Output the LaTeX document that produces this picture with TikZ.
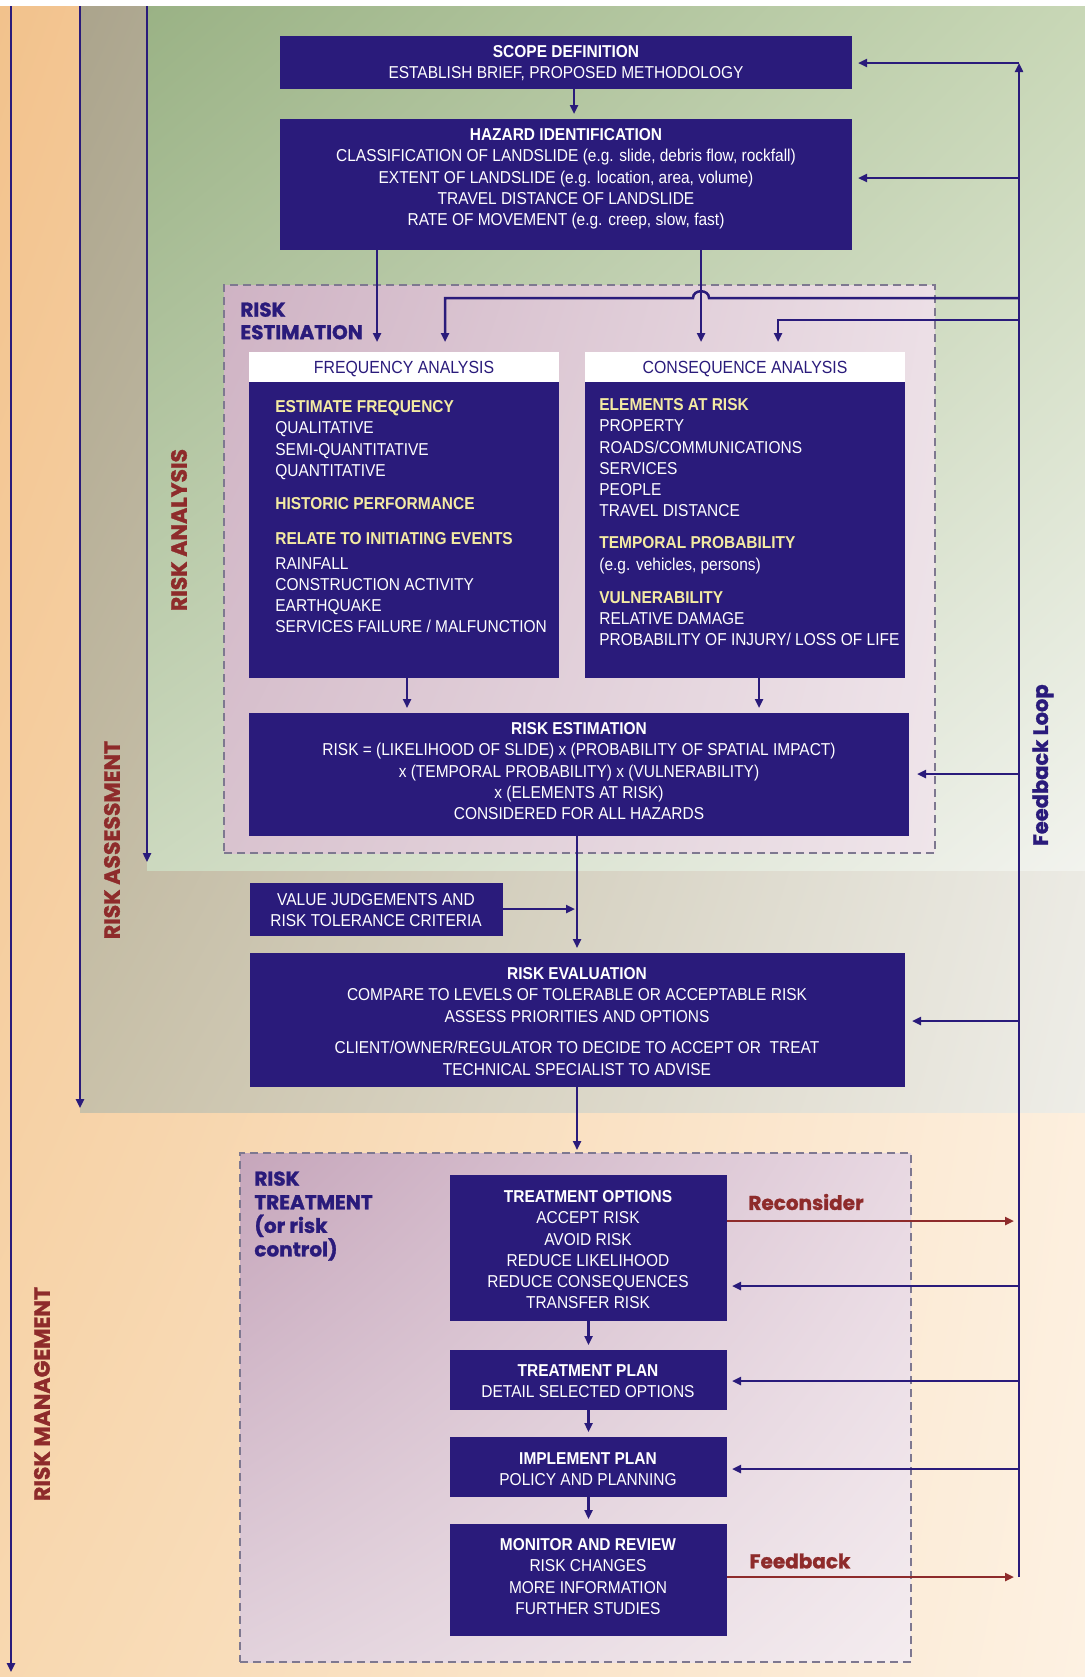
\documentclass[tikz,border=0pt]{standalone}
\usepackage{fontspec}
\setmainfont{Liberation Sans}[FakeStretch=0.9]
\newfontfamily\heavy{Poppins}[BoldFeatures={FakeBold=1.3}]
\usetikzlibrary{arrows.meta,fit,shadings}
\definecolor{navy}{HTML}{2A1B7B}
\definecolor{yel}{HTML}{F4EBA2}
\definecolor{rbrown}{HTML}{8E2B2B}
\definecolor{dashg}{HTML}{7E7890}
\definecolor{orUL}{HTML}{F2C28C}\definecolor{orLL}{HTML}{F8D8B0}
\definecolor{orUR}{HTML}{FCEBD6}\definecolor{orLR}{HTML}{FDF1E2}
\definecolor{grUL}{HTML}{ABA48C}\definecolor{grLL}{HTML}{C9C1A9}
\definecolor{grUR}{HTML}{E3E2D8}\definecolor{grLR}{HTML}{EEEDE7}
\definecolor{gnUL}{HTML}{9AB285}\definecolor{gnLL}{HTML}{CCD9BF}
\definecolor{gnUR}{HTML}{C8D7B6}\definecolor{gnLR}{HTML}{F2F3EE}
\definecolor{reUL}{HTML}{CFB3C4}\definecolor{reLL}{HTML}{D9C3CF}
\definecolor{reUR}{HTML}{ECDFE6}\definecolor{reLR}{HTML}{EFE5EA}
\definecolor{rtUL}{HTML}{C6A6BB}\definecolor{rtLL}{HTML}{E2D2DC}
\definecolor{rtUR}{HTML}{E8D8E2}\definecolor{rtLR}{HTML}{F4ECEF}
\begin{document}
\begin{tikzpicture}[x=0.5pt,y=-0.5pt,
  box/.style={fill=navy,draw=none,inner sep=0pt,outer sep=0pt},
  hdr/.style={fill=white,draw=none,inner sep=0pt,outer sep=0pt},
  txt/.style={text=white,font=\fontsize{8.6}{10.65}\selectfont,inner sep=0pt,align=center,anchor=north},
  hdrtxt/.style={text=navy,font=\fontsize{8.8}{10.65}\selectfont,inner sep=0pt,anchor=north},
  region/.style={draw=dashg,dash pattern=on 4pt off 2.5pt,line width=0.8pt,inner sep=0pt,outer sep=0pt},
  tip/.style={-{Triangle[length=4.5pt,width=4pt]}},
  flow/.style={draw=navy,line width=1.25pt,tip,shorten >=2.5pt},
  redarr/.style={draw=rbrown,line width=1.25pt,tip,shorten >=2.5pt},
  lbl/.style={font=\heavy\bfseries\fontsize{11}{13}\selectfont,text=rbrown,rotate=90,inner sep=0pt},
  blbl/.style={font=\heavy\bfseries\fontsize{10}{11.3}\selectfont,text=navy,inner sep=0pt,align=left,anchor=north west},
  rlbl/.style={font=\heavy\bfseries\fontsize{10}{12}\selectfont,text=rbrown,inner sep=0pt},
]
\useasboundingbox (0,0) rectangle (1085,1677);
\fill[white] (0,0) rectangle (1085,1677);
% background bands
\shade[upper left=orUL,lower left=orLL,upper right=orUR,lower right=orLR] (0,6) rectangle (1085,1677);
\shade[upper left=grUL,lower left=grLL,upper right=grUR,lower right=grLR] (80,6) rectangle (1085,1112);
\shade[upper left=gnUL,lower left=gnLL,upper right=gnUR,lower right=gnLR] (147,6) rectangle (1085,870);

% dashed regions
\node[region,upper left=reUL,lower left=reLL,upper right=reUR,lower right=reLR,fit={(224,285)(935,853)}] (estreg) {};
\node[region,upper left=rtUL,lower left=rtLL,upper right=rtUR,lower right=rtLR,fit={(240,1153)(911,1662)}] (rtreg) {};

% axis lines
\coordinate (rmtop) at (11,6);  \coordinate (rmbot) at (11,1672);
\coordinate (ratop) at (80,6);  \coordinate (rabot) at (80,1108);
\coordinate (rntop) at (147,6); \coordinate (rnbot) at (147,862);
\draw[flow,shorten >=0pt] (rmtop) -- (rmbot);
\draw[flow,shorten >=0pt] (ratop) -- (rabot);
\draw[flow,shorten >=0pt] (rntop) -- (rnbot);

\node[lbl] (lblRA) at (179,530) {RISK ANALYSIS};
\node[lbl] (lblRS) at (112,840) {RISK ASSESSMENT};
\node[lbl] (lblRM) at (42,1394) {RISK MANAGEMENT};
\node[lbl,text=navy,font=\heavy\bfseries\fontsize{10.5}{12}\selectfont] (lblFL) at (1043,765) {Feedback Loop};

% boxes
\node[box,fit={(280,36)(852,89)}] (scope) {};
\node[box,fit={(280,119)(852,250)}] (hazard) {};
\node[hdr,fit={(249,352)(559,382)}] (fahdr) {};
\node[box,fit={(249,382)(559,678)}] (fa) {};
\node[hdr,fit={(585,352)(905,382)}] (cahdr) {};
\node[box,fit={(585,382)(905,678)}] (ca) {};
\node[box,fit={(249,713)(909,836)}] (re) {};
\node[box,fit={(250,883)(503,936)}] (vj) {};
\node[box,fit={(250,953)(905,1087)}] (reval) {};
\node[box,fit={(450,1175)(727,1321)}] (to) {};
\node[box,fit={(450,1350)(727,1410)}] (tp) {};
\node[box,fit={(450,1437)(727,1497)}] (ip) {};
\node[box,fit={(450,1524)(727,1636)}] (mr) {};

% texts
\node[txt] (scopeT) at (566,45) {\textbf{SCOPE DEFINITION}\\ESTABLISH BRIEF, PROPOSED METHODOLOGY};
\node[txt] (hazardT) at (566,128) {\textbf{HAZARD IDENTIFICATION}\\CLASSIFICATION OF LANDSLIDE (e.g. slide, debris flow, rockfall)\\EXTENT OF LANDSLIDE (e.g. location, area, volume)\\TRAVEL DISTANCE OF LANDSLIDE\\RATE OF MOVEMENT (e.g. creep, slow, fast)};
\node[hdrtxt] (fahdrT) at (404,361) {FREQUENCY ANALYSIS};
\node[hdrtxt] (cahdrT) at (745,361) {CONSEQUENCE ANALYSIS};
\node[txt,align=left,anchor=north west] (faT) at (275,400) {\textcolor{yel}{\textbf{ESTIMATE FREQUENCY}}\\QUALITATIVE\\SEMI-QUANTITATIVE\\QUANTITATIVE\\[5.8pt]\textcolor{yel}{\textbf{HISTORIC PERFORMANCE}}\\[6.8pt]\textcolor{yel}{\textbf{RELATE TO INITIATING EVENTS}}\\[1.8pt]RAINFALL\\CONSTRUCTION ACTIVITY\\EARTHQUAKE\\SERVICES FAILURE / MALFUNCTION};
\node[txt,align=left,anchor=north west] (caT) at (599,398) {\textcolor{yel}{\textbf{ELEMENTS AT RISK}}\\PROPERTY\\ROADS/COMMUNICATIONS\\SERVICES\\PEOPLE\\TRAVEL DISTANCE\\[5.3pt]\textcolor{yel}{\textbf{TEMPORAL PROBABILITY}}\\(e.g. vehicles, persons)\\[5.8pt]\textcolor{yel}{\textbf{VULNERABILITY}}\\RELATIVE DAMAGE\\PROBABILITY OF INJURY/ LOSS OF LIFE};
\node[txt] (reT) at (579,722) {\textbf{RISK ESTIMATION}\\RISK = (LIKELIHOOD OF SLIDE) x (PROBABILITY OF SPATIAL IMPACT)\\x (TEMPORAL PROBABILITY) x (VULNERABILITY)\\x (ELEMENTS AT RISK)\\CONSIDERED FOR ALL HAZARDS};
\node[txt] (vjT) at (376,893) {VALUE JUDGEMENTS AND\\RISK TOLERANCE CRITERIA};
\node[txt] (revalT) at (577,967) {\textbf{RISK EVALUATION}\\COMPARE TO LEVELS OF TOLERABLE OR ACCEPTABLE RISK\\ASSESS PRIORITIES AND OPTIONS\\[5.3pt]CLIENT/OWNER/REGULATOR TO DECIDE TO ACCEPT OR\ \ TREAT\\TECHNICAL SPECIALIST TO ADVISE};
\node[txt] (toT) at (588,1190) {\textbf{TREATMENT OPTIONS}\\ACCEPT RISK\\AVOID RISK\\REDUCE LIKELIHOOD\\REDUCE CONSEQUENCES\\TRANSFER RISK};
\node[txt] (tpT) at (588,1364) {\textbf{TREATMENT PLAN}\\DETAIL SELECTED OPTIONS};
\node[txt] (ipT) at (588,1452) {\textbf{IMPLEMENT PLAN}\\POLICY AND PLANNING};
\node[txt] (mrT) at (588,1538) {\textbf{MONITOR AND REVIEW}\\RISK CHANGES\\MORE INFORMATION\\FURTHER STUDIES};

\node[blbl] (estL) at (240,302) {RISK\\ESTIMATION};
\node[blbl,font=\heavy\bfseries\fontsize{10}{11.8}\selectfont] (rtL) at (254,1171) {RISK\\TREATMENT\\(or risk\\control)};

% main flow
\draw[flow] (scope.south -| 574,0) -- (hazard.north -| 574,0);
\draw[flow,shorten >=5pt] (hazard.south -| 377,0) -- (fahdr.north -| 377,0);
\draw[flow,shorten >=5pt] (hazard.south -| 701,0) -- (cahdr.north -| 701,0);
\draw[flow] (fa.south -| 407,0) -- (re.north -| 407,0);
\draw[flow] (ca.south -| 759,0) -- (re.north -| 759,0);
\coordinate (vjin) at (577,909);
\draw[flow] (re.south -| vjin) -- (reval.north -| vjin);
\draw[flow,shorten >=1pt] (vj.east |- vjin) -- (vjin);
\draw[flow,shorten >=1.5pt] (reval.south -| vjin) -- (rtreg.north -| vjin);
\draw[flow] (to.south) -- (tp.north);
\draw[flow] (tp.south) -- (ip.north);
\draw[flow] (ip.south) -- (mr.north);

% feedback loop
\coordinate (fbtop) at (1019,63);
\coordinate (fbbot) at (1019,1577);
\draw[flow,shorten >=0pt] (fbbot) -- (fbtop);
\draw[flow,shorten >=3pt] (fbtop) -- (scope.east |- fbtop);
\draw[flow,shorten >=3pt] (fbtop |- 0,178) -- (hazard.east |- 0,178);
\draw[flow,shorten >=5pt] (fbtop |- 0,298) -- (709,298) .. controls (709,289) and (693,289) .. (693,298) -- (445,298) -- (fahdr.north -| 445,0);
\draw[flow,shorten >=5pt] (fbtop |- 0,320) -- (778,320) -- (cahdr.north -| 778,0);
\draw[flow,shorten >=4pt] (fbtop |- 0,774) -- (re.east |- 0,774);
\draw[flow,shorten >=3.5pt] (fbtop |- 0,1021) -- (reval.east |- 0,1021);
\draw[flow,shorten >=2.5pt] (fbtop |- 0,1286) -- (to.east |- 0,1286);
\draw[flow,shorten >=2.5pt] (fbtop |- 0,1381) -- (tp.east |- 0,1381);
\draw[flow,shorten >=2.5pt] (fbtop |- 0,1469) -- (ip.east |- 0,1469);
\draw[redarr] (to.east |- 0,1221) -- (fbtop |- 0,1221);
\draw[redarr] (mr.east |- fbbot) -- (fbbot);
\node[rlbl] (recL) at (806,1202) {Reconsider};
\node[rlbl] (fbL) at (800,1561) {Feedback};
\end{tikzpicture}
\end{document}
